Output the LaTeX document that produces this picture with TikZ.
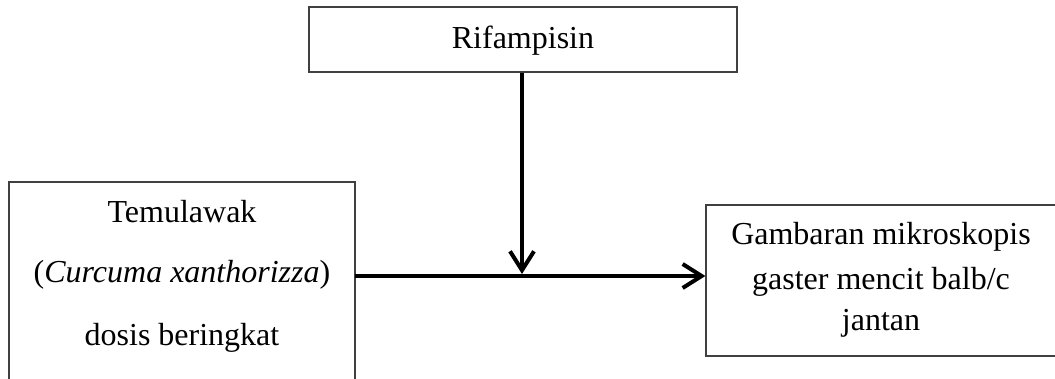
\documentclass[tikz,border=0pt]{standalone}
\usepackage{fontspec}
\setmainfont{Liberation Serif}
\usetikzlibrary{arrows.meta}
\begin{document}
\begin{tikzpicture}[x=1pt,y=-1pt,
  box/.style={draw=black!75,line width=1.2pt,rectangle,inner sep=0pt},
  txt/.style={anchor=base,inner sep=0pt,font=\fontsize{32}{38}\selectfont},
  conn/.style={line width=4pt,-{Straight Barb[length=19pt,width=24pt]}}]
\clip (0,0) rectangle (1055,378);
\fill[white] (0,0) rectangle (1055,378);
% boxes
\node[box,minimum width=428pt,minimum height=65pt] (rif) at (523,39.5) {};
\node[box,minimum width=346pt,minimum height=240pt] (lt) at (182,302) {};
\node[box,minimum width=370pt,minimum height=151pt] (rt) at (891,280.5) {};
% texts
\node[txt] (t1) at (523,48) {Rifampisin};
\node[txt] (t2) at (182,222) {Temulawak};
\node[txt] (t3) at (182,282) {(\textit{Curcuma xanthorizza})};
\node[txt] (t4) at (182,345) {dosis beringkat};
\node[txt] (t5) at (881,244) {Gambaran mikroskopis};
\node[txt] (t6) at (881,289) {gaster mencit balb/c};
\node[txt] (t7) at (881,330) {jantan};
% connectors
\coordinate (lte) at (355,276);
\coordinate (j) at (522,274);
\draw[conn] (lte) -- (rt.west |- lte);
\draw[conn] (rif.south -| j) -- (j);
\end{tikzpicture}
\end{document}
